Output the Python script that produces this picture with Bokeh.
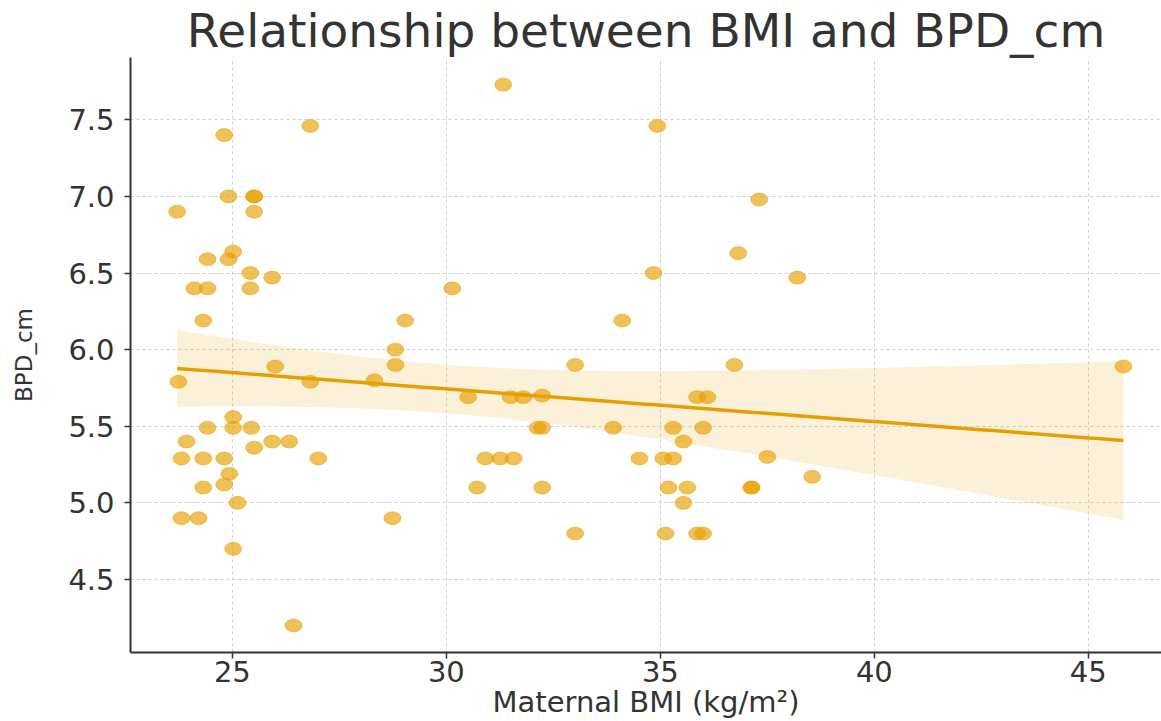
import numpy as np
from bokeh.plotting import figure
from bokeh.models import FixedTicker, CustomJSTickFormatter, ColumnDataSource
from bokeh.embed import file_html
from bokeh.resources import INLINE

# Data
bmi = [23.74, 23.71, 23.81, 23.81, 23.93, 24.11, 24.21, 24.32, 24.32, 24.32,
       24.42, 24.42, 24.42, 24.81, 24.81, 24.81, 24.91, 24.91, 24.93, 25.02,
       25.02, 25.02, 25.02, 25.12, 25.51, 25.51, 25.51, 25.42, 25.42, 25.44,
       25.51, 25.93, 25.93, 26.00, 26.33, 26.43, 26.82, 26.82, 27.01,
       28.32, 28.74, 28.81, 28.81, 29.04, 30.14, 30.51, 30.72, 30.91, 31.26,
       31.57, 31.33, 31.50, 31.80, 32.24, 32.13, 32.24, 32.24, 33.01, 33.01,
       33.90, 34.11, 34.51, 34.84, 34.93, 35.07, 35.12, 35.19, 35.30, 35.30,
       35.54, 35.54, 35.63, 35.86, 36.10, 35.86, 36.00, 36.00, 36.73, 36.82,
       37.13, 37.13, 37.31, 37.50, 38.20, 38.55, 45.82]
bpd = [5.79, 6.90, 5.29, 4.90, 5.40, 6.40, 4.90, 6.19, 5.29, 5.10,
       6.59, 6.40, 5.49, 7.40, 5.29, 5.12, 7.00, 6.59, 5.19, 6.64,
       5.56, 5.49, 4.70, 5.00, 7.00, 7.00, 6.90, 6.50, 6.40, 5.49,
       5.36, 6.47, 5.40, 5.89, 5.40, 4.20, 7.46, 5.79, 5.29,
       5.80, 4.90, 6.00, 5.90, 6.19, 6.40, 5.69, 5.10, 5.29, 5.29,
       5.29, 7.73, 5.69, 5.69, 5.70, 5.49, 5.49, 5.10, 5.90, 4.80,
       5.49, 6.19, 5.29, 6.50, 7.46, 5.29, 4.80, 5.10, 5.49, 5.29,
       5.40, 5.00, 5.10, 5.69, 5.69, 4.80, 5.49, 4.80, 5.90, 6.63,
       5.10, 5.10, 6.98, 5.30, 6.47, 5.17, 5.89]

x_ticks = [25, 30, 35, 40, 45]
y_ticks = [4.5, 5.0, 5.5, 6.0, 6.5, 7.0, 7.5]

title_text = "Relationship between BMI and BPD_cm"
x_label = "Maternal BMI (kg/m²)"
y_label = "BPD_cm"

# Linear fit with 95% confidence band
xa = np.array(bmi)
ya = np.array(bpd)
n = len(xa)
slope, intercept = np.polyfit(xa, ya, 1)
resid = ya - (slope * xa + intercept)
s = np.sqrt(np.sum(resid ** 2) / (n - 2))
xg = np.linspace(xa.min(), xa.max(), 100)
yg = slope * xg + intercept
se = s * np.sqrt(1.0 / n + (xg - xa.mean()) ** 2 / np.sum((xa - xa.mean()) ** 2))
tval = 1.989
band = ColumnDataSource(dict(x=xg, y=yg, lo=yg - tval * se, hi=yg + tval * se))

FONT = "DejaVu Sans"
TXT = "#333333"
ORANGE = "#E69F00"

p = figure(width=1161, height=721, x_range=(22.62, 46.71), y_range=(4.0235, 7.9065),
           output_backend="svg", toolbar_location=None,
           min_border_left=130, min_border_right=0, min_border_top=54, min_border_bottom=68)

p.title.text = title_text
p.title.text_font = FONT
p.title.text_font_size = "47px"
p.title.text_font_style = "normal"
p.title.text_color = TXT
p.title.align = "center"
p.title.standoff = 0
p.title.text_line_height = 1.0

p.outline_line_color = None
p.background_fill_color = "white"
p.border_fill_color = "white"

for g in (p.xgrid, p.ygrid):
    g.grid_line_color = "#b0b0b0"
    g.grid_line_alpha = 0.6
    g.grid_line_dash = "3 3"
    g.grid_line_width = 1
p.xgrid.ticker = FixedTicker(ticks=x_ticks)
p.ygrid.ticker = FixedTicker(ticks=y_ticks)

p.xaxis.ticker = FixedTicker(ticks=x_ticks)
p.yaxis.ticker = FixedTicker(ticks=y_ticks)
p.yaxis.formatter = CustomJSTickFormatter(code="return tick.toFixed(1);")
p.xaxis.axis_label = x_label
p.yaxis.axis_label = y_label

for ax in (p.xaxis, p.yaxis):
    ax.axis_line_color = "#333333"
    ax.axis_line_width = 2
    ax.major_tick_line_color = "#333333"
    ax.major_tick_line_width = 1.5
    ax.major_tick_out = 6
    ax.major_tick_in = 0
    ax.minor_tick_line_color = None
    ax.major_label_text_font = FONT
    ax.major_label_text_font_size = "29px"
    ax.major_label_text_color = TXT
    ax.axis_label_text_font = FONT
    ax.axis_label_text_font_style = "normal"
    ax.axis_label_text_color = TXT
    ax.axis_label_text_line_height = 0.9
    ax.major_label_text_line_height = 0.9
p.xaxis.axis_label_text_font_size = "29px"
p.yaxis.axis_label_text_font_size = "23px"
p.xaxis.major_label_standoff = 2
p.yaxis.major_label_standoff = 10
p.xaxis.axis_label_standoff = 0
p.yaxis.axis_label_standoff = 28

p.varea(x="x", y1="lo", y2="hi", source=band, fill_color=ORANGE, fill_alpha=0.15)
p.ellipse(x=bmi, y=bpd, width=17, height=13, width_units="screen", height_units="screen",
          fill_color=ORANGE, fill_alpha=0.65, line_color=ORANGE, line_alpha=0.5)
p.line(x="x", y="y", source=band, line_color=ORANGE, line_width=3.5)

open("out.html", "w").write(file_html(p, INLINE))
